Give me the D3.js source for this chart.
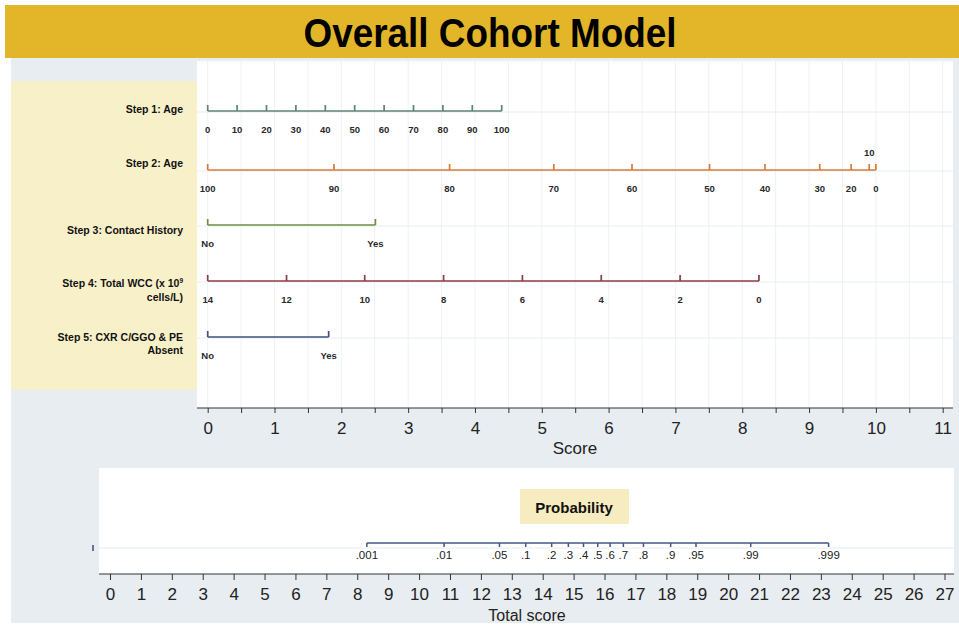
<!DOCTYPE html>
<html>
<head>
<meta charset="utf-8">
<script src="https://d3js.org/d3.v7.min.js"></script>
<style>
  body { margin: 0; background: #fff; }
  text { font-family: "Liberation Sans", Arial, sans-serif; }
</style>
</head>
<body>
<div id="chart"></div>
<script>
// step 1: age -> score
var step1Labels = [0, 10, 20, 30, 40, 50, 60, 70, 80, 90, 100];
var step1Scores = [0, 0.44, 0.88, 1.32, 1.76, 2.20, 2.64, 3.08, 3.52, 3.96, 4.40];
// step 2: age -> score
var step2Labels = [100, 90, 80, 70, 60, 50, 40, 30, 20, 10, 0];
var step2Scores = [0, 1.89, 3.62, 5.18, 6.35, 7.51, 8.34, 9.16, 9.63, 9.90, 10];
// step 3: contact history
var step3Labels = ["No", "Yes"];
var step3Scores = [0, 2.51];
// step 4: total WCC
var step4Labels = [14, 12, 10, 8, 6, 4, 2, 0];
var step4Scores = [0, 1.18, 2.35, 3.53, 4.71, 5.89, 7.07, 8.25];
// step 5: CXR
var step5Labels = ["No", "Yes"];
var step5Scores = [0, 1.81];
// probability scale on total score
var probLabels = [".001", ".01", ".05", ".1", ".2", ".3", ".4", ".5", ".6", ".7", ".8", ".9", ".95", ".99", ".999"];
var probScores = [8.31, 10.81, 12.6, 13.45, 14.29, 14.83, 15.32, 15.78, 16.18, 16.61, 17.26, 18.14, 18.96, 20.73, 23.25];

var width = 959, height = 625;

var svg = d3.select("#chart").append("svg")
  .attr("width", width).attr("height", height);

// backgrounds
svg.append("rect").attr("x", 11).attr("y", 58).attr("width", 948).attr("height", 565).attr("fill", "#E8EDF1");
svg.append("rect").attr("x", 5).attr("y", 5).attr("width", 954).attr("height", 53).attr("fill", "#E2B628");
svg.append("text").attr("x", 490).attr("y", 47).attr("text-anchor", "middle")
  .attr("font-size", 40).attr("font-weight", "bold").attr("fill", "#000")
  .attr("textLength", 373).attr("lengthAdjust", "spacingAndGlyphs")
  .text("Overall Cohort Model");

svg.append("rect").attr("x", 11).attr("y", 81).attr("width", 186).attr("height", 309).attr("fill", "#F8F0C8");
svg.append("rect").attr("x", 197).attr("y", 61).attr("width", 756).attr("height", 347).attr("fill", "#fff");
svg.append("rect").attr("x", 99).attr("y", 468).attr("width", 855).attr("height", 106).attr("fill", "#fff");

var x = d3.scaleLinear().domain([0, 11]).range([207.7, 942.7]);
var xt = d3.scaleLinear().domain([0, 27]).range([110, 944.5]);

// faint grid
svg.append("g").selectAll("line").data(d3.range(0, 11.01, 0.5)).enter().append("line")
  .attr("x1", function(d){ return x(d); }).attr("x2", function(d){ return x(d); })
  .attr("y1", 61).attr("y2", 408).attr("stroke", "#EEF2F5").attr("stroke-width", 1);

var steps = [
  {name: ["Step 1: Age"], y: 111, color: "#5E8373", labels: step1Labels, scores: step1Scores},
  {name: ["Step 2: Age"], y: 170, color: "#D57B39", labels: step2Labels, scores: step2Scores},
  {name: ["Step 3: Contact History"], y: 225, color: "#6D8E3E", labels: step3Labels, scores: step3Scores},
  {name: ["Step 4: Total WCC (x 10", "cells/L)"], y: 281, color: "#8E3B46", labels: step4Labels, scores: step4Scores},
  {name: ["Step 5: CXR C/GGO & PE", "Absent"], y: 337, color: "#3D5080", labels: step5Labels, scores: step5Scores}
];

steps.forEach(function(s, i) {
  svg.append("line").attr("x1", 197).attr("x2", 953).attr("y1", s.y + 1).attr("y2", s.y + 1)
    .attr("stroke", "#E8EEF3");
  var g = svg.append("g");
  g.append("line")
    .attr("x1", x(d3.min(s.scores))).attr("x2", x(d3.max(s.scores)))
    .attr("y1", s.y).attr("y2", s.y)
    .attr("stroke", s.color).attr("stroke-width", 1.7);
  g.selectAll("line.tk").data(s.scores).enter().append("line").attr("class", "tk")
    .attr("x1", function(d){ return x(d); }).attr("x2", function(d){ return x(d); })
    .attr("y1", s.y).attr("y2", s.y - 6)
    .attr("stroke", s.color).attr("stroke-width", 1.7);
  g.selectAll("text").data(s.scores).enter().append("text")
    .attr("x", function(d){ return x(d); })
    .attr("y", function(d, j){
      return (i === 1 && s.labels[j] === 10) ? s.y - 14 : s.y + 22;
    })
    .attr("text-anchor", "middle").attr("font-size", 9.5).attr("font-weight", "bold").attr("fill", "#2a2a2a")
    .text(function(d, j){ return s.labels[j]; });

  // left labels
  var t = svg.append("text").attr("x", 183).attr("text-anchor", "end")
    .attr("font-size", 10.5).attr("font-weight", "bold").attr("fill", "#111");
  if (i === 3) {
    t.attr("y", s.y + 6);
    t.append("tspan").text(s.name[0]);
    t.append("tspan").attr("font-size", 6.5).attr("dy", -4).text("9");
    svg.append("text").attr("x", 183).attr("y", s.y + 20).attr("text-anchor", "end")
      .attr("font-size", 10.5).attr("font-weight", "bold").attr("fill", "#111").text(s.name[1]);
  } else if (i === 4) {
    t.attr("y", s.y + 4).text(s.name[0]);
    svg.append("text").attr("x", 183).attr("y", s.y + 17).attr("text-anchor", "end")
      .attr("font-size", 10.5).attr("font-weight", "bold").attr("fill", "#111").text(s.name[1]);
  } else {
    t.attr("y", s.y + (i === 2 ? 9 : (i === 1 ? -3 : 2))).text(s.name[0]);
  }
});

// score axis
var ax = svg.append("g").attr("transform", "translate(0,408)")
  .call(d3.axisBottom(x).tickValues(d3.range(0, 11.01, 0.5)).tickSize(5).tickPadding(9).tickSizeOuter(0)
    .tickFormat(function(d){ return d % 1 === 0 ? d : ""; }));
ax.select(".domain").attr("stroke", "#333").attr("d", "M197,0H953");
ax.selectAll(".tick line").attr("stroke", "#333");
ax.selectAll("text").attr("font-size", 17).attr("fill", "#222").attr("font-family", "Liberation Sans, Arial, sans-serif");
svg.append("text").attr("x", 575).attr("y", 454).attr("text-anchor", "middle")
  .attr("font-size", 17).attr("fill", "#222").text("Score");

// probability panel
svg.append("line").attr("x1", 99).attr("x2", 954).attr("y1", 548).attr("y2", 548).attr("stroke", "#E6ECF1");
svg.append("line").attr("x1", 93).attr("x2", 93).attr("y1", 545).attr("y2", 551).attr("stroke", "#3D4A70").attr("stroke-width", 1.5);
svg.append("rect").attr("x", 520).attr("y", 489).attr("width", 109).attr("height", 35).attr("fill", "#F7ECC0");
svg.append("text").attr("x", 574).attr("y", 513).attr("text-anchor", "middle")
  .attr("font-size", 15).attr("font-weight", 600).attr("fill", "#111").attr("font-family", "Open Sans, Liberation Sans, sans-serif")
  .text("Probability");

var pg = svg.append("g");
pg.append("line").attr("x1", xt(d3.min(probScores))).attr("x2", xt(d3.max(probScores)))
  .attr("y1", 543).attr("y2", 543).attr("stroke", "#45558A").attr("stroke-width", 1.5);
pg.selectAll("line.tk").data(probScores).enter().append("line").attr("class", "tk")
  .attr("x1", function(d){ return xt(d); }).attr("x2", function(d){ return xt(d); })
  .attr("y1", 543).attr("y2", 547).attr("stroke", "#45558A").attr("stroke-width", 1.5);
pg.selectAll("text").data(probScores).enter().append("text")
  .attr("x", function(d){ return xt(d); }).attr("y", 559)
  .attr("text-anchor", "middle").attr("font-size", 11.5).attr("fill", "#222")
  .text(function(d, j){ return probLabels[j]; });

var bx = svg.append("g").attr("transform", "translate(0,574)")
  .call(d3.axisBottom(xt).tickValues(d3.range(0, 28)).tickSize(6).tickPadding(8).tickSizeOuter(0));
bx.select(".domain").attr("stroke", "#333").attr("d", "M99,0H954");
bx.selectAll(".tick line").attr("stroke", "#333");
bx.selectAll("text").attr("font-size", 17).attr("fill", "#222").attr("font-family", "Liberation Sans, Arial, sans-serif");
svg.append("text").attr("x", 527).attr("y", 621).attr("text-anchor", "middle")
  .attr("font-size", 16).attr("fill", "#222").text("Total score");
</script>
</body>
</html>
